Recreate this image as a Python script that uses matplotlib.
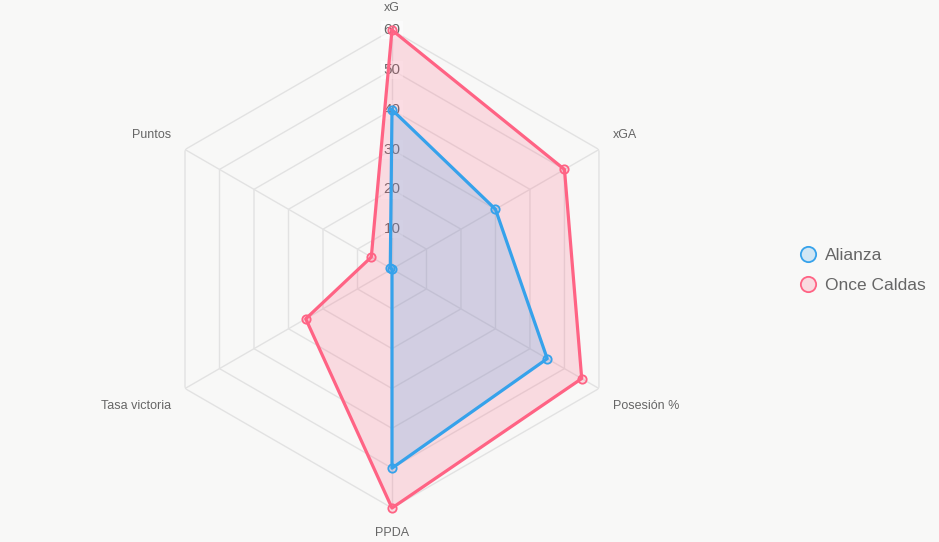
import numpy as np
import matplotlib
matplotlib.use("Agg")
import matplotlib.pyplot as plt

# data
categories = ["xG", "xGA", "Posesión %", "PPDA", "Tasa victoria", "Puntos"]
alianza = [40, 30, 45, 50, 0, 0.5]
once_caldas = [60, 50, 55, 60, 25, 6]
ticks = [10, 20, 30, 40, 50, 60]

plt.rcParams['font.family'] = ['Liberation Sans', 'DejaVu Sans']

bg = '#f8f8f7'
blue = (54/255, 162/255, 235/255)
pink = (255/255, 99/255, 132/255)

fig = plt.figure(figsize=(9.39, 5.42), dpi=100)
fig.patch.set_facecolor(bg)

ax = fig.add_axes([0.1629, 0.0627, 0.5091, 0.8819], projection='polar')
ax.set_facecolor('none')
ax.set_theta_offset(np.pi / 2)
ax.set_theta_direction(-1)
ax.set_ylim(0, 60)
ax.grid(False)
ax.spines['polar'].set_visible(False)
ax.set_xticks([])
ax.set_yticks([])

n = len(categories)
angles = np.arange(n) * 2 * np.pi / n
closed = np.append(angles, angles[0])

# hexagon grid + spokes
gcol = '#e2e2e2'
for t in ticks:
    ax.plot(closed, [t] * (n + 1), color=gcol, lw=1, zorder=1)
for a in angles:
    ax.plot([a, a], [0, 60], color=gcol, lw=1, zorder=1)

# radial tick labels (under the datasets)
for t in ticks:
    ax.text(0, t, str(t), ha='center', va='center', fontsize=11, color='#666666',
            zorder=2, bbox=dict(boxstyle='square,pad=0.15', fc='white', ec='none', alpha=0.5))

# datasets (first one drawn on top)
for vals, col, z in [(once_caldas, pink, 3), (alianza, blue, 4)]:
    v = np.append(vals, vals[0])
    ax.fill(closed, v, color=col, alpha=0.2, lw=0, zorder=z)
    ax.plot(closed, v, color=col, lw=2.3, zorder=z + 0.1, clip_on=False)
    ax.plot(angles, vals, 'o', ms=6, mfc=(col[0], col[1], col[2], 0.2),
            mec=col, mew=1.3, zorder=z + 0.2, clip_on=False)

# point labels
offsets = [(0, 22, 'center'), (14, 15, 'left'), (14, -17, 'left'),
           (0, -25, 'center'), (-14, -17, 'right'), (-14, 15, 'right')]
for a, lab, (dx, dy, ha) in zip(angles, categories, offsets):
    ax.annotate(lab, xy=(a, 60), xytext=(dx, dy), textcoords='offset pixels',
                ha=ha, va='center', fontsize=9, color='#666666', annotation_clip=False)

# legend
for i, (lab, col) in enumerate([("Alianza", blue), ("Once Caldas", pink)]):
    y = 1 - (254 + i * 30) / 542
    fig.add_artist(plt.Line2D([808 / 939], [y], marker='o', ms=11, ls='none',
                              mfc=(col[0], col[1], col[2], 0.2), mec=col, mew=1.3,
                              transform=fig.transFigure))
    fig.text(825 / 939, y - 2 / 542, lab, ha='left', va='center', fontsize=12.5, color='#666666')

fig.savefig('out.png', dpi=100, facecolor=bg)
